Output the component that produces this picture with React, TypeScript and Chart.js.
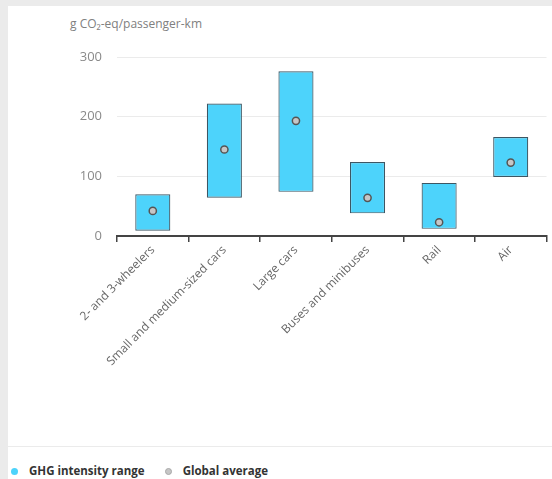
import React, { useEffect, useRef } from "react";
import { Chart, registerables } from "chart.js";

Chart.register(...registerables);

const categories = [
  "2- and 3-wheelers",
  "Small and medium-sized cars",
  "Large cars",
  "Buses and minibuses",
  "Rail",
  "Air",
];
const rangeLow = [9, 64, 74, 38, 12, 99];
const rangeHigh = [70, 222, 276, 124, 89, 166];
const globalAverage = [42, 145, 193, 64, 23, 123];
const yTicks = [0, 100, 200, 300];
const unitLabel = "g CO\u2082-eq/passenger-km";
const legendRange = "GHG intensity range";
const legendAverage = "Global average";

const CYAN = "#4dd3fb";
const FONT = "'Open Sans', 'DejaVu Sans', sans-serif";

export default function App() {
  const ref = useRef<HTMLCanvasElement | null>(null);

  useEffect(() => {
    if (!ref.current) return;
    const chart = new Chart(ref.current, {
      type: "bar",
      data: {
        labels: categories,
        datasets: [
          {
            type: "line",
            label: legendAverage,
            data: globalAverage,
            showLine: false,
            pointStyle: "circle",
            pointRadius: 3.6,
            pointBackgroundColor: "#c6c6c6",
            pointBorderColor: "#555555",
            pointBorderWidth: 1.5,
            order: 0,
          } as any,
          {
            type: "bar",
            label: legendRange,
            data: rangeLow.map((lo, i) => [lo, rangeHigh[i]]),
            backgroundColor: CYAN,
            borderColor: "#3d5663",
            borderWidth: 1.2,
            borderSkipped: false,
            barPercentage: 0.49,
            categoryPercentage: 1,
            order: 1,
          } as any,
        ],
      },
      options: {
        responsive: false,
        animation: false,
        layout: { padding: { left: 0, right: 4, top: 51, bottom: 0 } },
        plugins: {
          legend: { display: false },
          tooltip: { enabled: false },
          title: { display: false },
        },
        scales: {
          x: {
            afterFit: (s: any) => {
              s.height = 204;
            },
            grid: {
              display: true,
              drawOnChartArea: false,
              drawTicks: true,
              tickLength: 6,
              color: "#444444",
              lineWidth: 1.5,
              offset: true,
            },
            border: { display: true, color: "#444444", width: 2 },
            ticks: {
              minRotation: 45,
              maxRotation: 45,
              autoSkip: false,
              padding: 1,
              color: "#666666",
              font: { family: FONT, size: 12 },
            },
          },
          y: {
            min: 0,
            max: 300,
            afterFit: (s: any) => {
              s.width = 109;
            },
            afterBuildTicks: (s: any) => {
              s.ticks = yTicks.map((v) => ({ value: v }));
            },
            grid: {
              color: (c: any) => (c.tick && c.tick.value === 0 ? "rgba(0,0,0,0)" : "#ebebeb"),
              lineWidth: 1,
              drawTicks: false,
            },
            border: { display: false },
            ticks: {
              padding: 15,
              color: "#8a8a8a",
              font: { family: FONT, size: 13 },
            },
          },
        },
      },
    });
    return () => chart.destroy();
  }, []);

  return (
    <div
      style={{
        position: "fixed",
        left: 0,
        top: 0,
        width: 552,
        height: 479,
        background: "#ebebeb",
        overflow: "hidden",
        fontFamily: FONT,
      }}
    >
      <div
        style={{
          position: "absolute",
          left: 8,
          top: 6,
          width: 544,
          height: 473,
          background: "#ffffff",
        }}
      >
        <div
          style={{
            position: "absolute",
            left: 62,
            top: 9,
            fontSize: 12,
            color: "#808080",
            whiteSpace: "nowrap",
            lineHeight: "18px",
          }}
        >
          {unitLabel}
        </div>
        <canvas
          ref={ref}
          width={544}
          height={434}
          style={{ position: "absolute", left: 0, top: 0, width: 544, height: 434 }}
        />
        <div
          style={{
            position: "absolute",
            left: 0,
            top: 440,
            width: 544,
            height: 1,
            background: "#ebebeb",
          }}
        />
        <div
          style={{
            position: "absolute",
            left: 3,
            top: 457,
            display: "flex",
            alignItems: "center",
            fontSize: 11.5,
            fontWeight: 700,
            color: "#333333",
            whiteSpace: "nowrap",
            lineHeight: "16px",
          }}
        >
          <span
            style={{
              display: "inline-block",
              width: 7,
              height: 7,
              borderRadius: "50%",
              background: CYAN,
              marginRight: 11,
            }}
          />
          <span>{legendRange}</span>
          <span
            style={{
              display: "inline-block",
              width: 5,
              height: 5,
              borderRadius: "50%",
              background: "#c6c6c6",
              border: "1.5px solid #a8a8a8",
              marginLeft: 20,
              marginRight: 11,
            }}
          />
          <span>{legendAverage}</span>
        </div>
      </div>
    </div>
  );
}
